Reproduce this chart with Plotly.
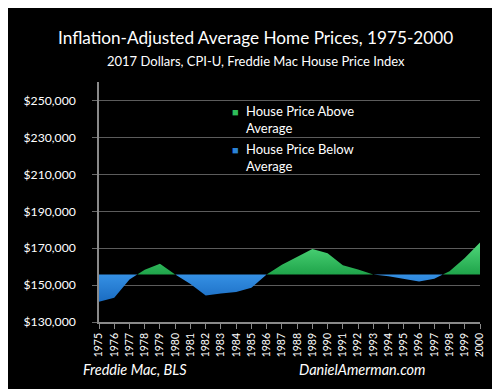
import plotly.graph_objects as go

years = list(range(1975, 2001))
prices = [141000, 143200, 153000, 158300, 161600, 155700, 150600, 144300, 145400,
          146250, 148550, 155700, 161000, 165150, 169600, 167300, 160800, 158400,
          155700, 154800, 153400, 151900, 153400, 157500, 164600, 173000]
average_price = 155700
y_ticks = [130000, 150000, 170000, 190000, 210000, 230000, 250000]
y_tick_text = ["$130,000", "$150,000", "$170,000", "$190,000", "$210,000", "$230,000", "$250,000"]
legend_labels = ["House Price Above", "House Price Below"]

FONT = "Lato"
GREEN, BLUE = "#2ebd5a", "#2a82d6"

# split curve at crossings of the average
xs, ys = [], []
for i in range(len(years)):
    if i > 0:
        a, b = prices[i - 1], prices[i]
        if (a - average_price) * (b - average_price) < 0:
            t = (average_price - a) / (b - a)
            xs.append(years[i - 1] + t)
            ys.append(average_price)
    xs.append(years[i])
    ys.append(prices[i])
above = [max(v, average_price) for v in ys]
below = [min(v, average_price) for v in ys]

fig = go.Figure()
fig.add_trace(go.Scatter(x=[years[0], years[-1]], y=[average_price, average_price],
                         mode="lines", line=dict(width=0), showlegend=False, hoverinfo="skip"))
fig.add_trace(go.Scatter(x=xs, y=above, mode="lines", line=dict(width=0, color=GREEN),
                         fill="tonexty",
                         fillgradient=dict(type="vertical",
                                           colorscale=[[0, "#1fa44a"], [1, "#4fd77a"]]),
                         name="House Price Above Average", showlegend=False))
fig.add_trace(go.Scatter(x=[years[0], years[-1]], y=[average_price, average_price],
                         mode="lines", line=dict(width=0), showlegend=False, hoverinfo="skip"))
fig.add_trace(go.Scatter(x=xs, y=below, mode="lines", line=dict(width=0, color=BLUE),
                         fill="tonexty",
                         fillgradient=dict(type="vertical",
                                           colorscale=[[0, "#1a6cc2"], [1, "#3590e4"]]),
                         name="House Price Below Average", showlegend=False))

W, H = 500, 389
l, r, t, b = 91, 28, 73.5, 75
pw, ph = W - l - r, H - t - b


def px(x, y):
    return (x - l) / pw, (H - b - y) / ph


anns = []


def add_text(text, x, y, size, xanchor="center", color="white"):
    ax, ay = px(x, y)
    anns.append(dict(text=text, showarrow=False, xref="paper", yref="paper",
                     x=ax, y=ay, xanchor=xanchor, yanchor="middle",
                     font=dict(size=size, color=color, family=FONT)))


add_text("Inflation-Adjusted Average Home Prices, 1975-2000", 247.5, 29, 17.2)
add_text("2017 Dollars, CPI-U, Freddie Mac House Price Index", 247.5, 52, 13)
add_text("<i>Freddie Mac, BLS</i>", 127, 362, 14.5)
add_text("<i>DanielAmerman.com</i>", 354, 362, 14.5)
# legend
for lab, col, yy in zip(legend_labels, [GREEN, BLUE], [103, 141]):
    add_text("■", 227, yy, 11, color=col)
    add_text(lab, 236, yy, 13, xanchor="left")
    add_text("Average", 236, yy + 17, 13, xanchor="left")

fig.update_layout(
    width=W, height=H,
    paper_bgcolor="black", plot_bgcolor="black",
    margin=dict(l=l, r=r, t=t, b=b),
    font=dict(family=FONT, color="white"),
    showlegend=False,
    annotations=anns,
)

fig.update_xaxes(range=[1975, 2000], tickmode="array", tickvals=years,
                 ticktext=[str(y) for y in years], tickangle=-90,
                 tickfont=dict(size=10.5, color="white", family=FONT),
                 showgrid=False, showline=True, linecolor="#8a8a8a", linewidth=1.5,
                 ticks="outside", ticklen=5, tickcolor="#8a8a8a", zeroline=False)
fig.update_yaxes(range=[130000, 260000], tickmode="array", tickvals=y_ticks,
                 ticktext=y_tick_text,
                 tickfont=dict(size=12.2, color="white", family=FONT),
                 ticklabelstandoff=14,
                 showgrid=True, gridcolor="#5c5c5c", gridwidth=1.2,
                 showline=True, linecolor="#8a8a8a", linewidth=1.5,
                 ticks="outside", ticklen=5, tickcolor="#6a6a6a", tickwidth=1.2,
                 zeroline=False)

fig.write_html("out.html")
